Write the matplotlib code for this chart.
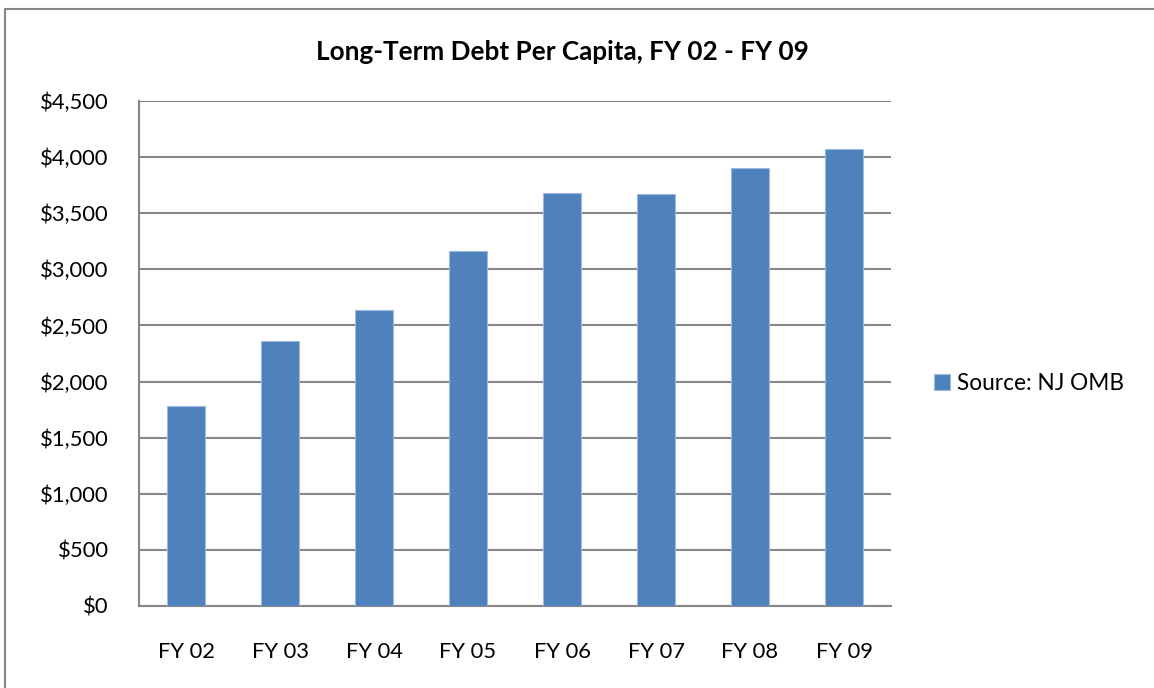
import matplotlib
matplotlib.use("Agg")
import matplotlib.pyplot as plt
from matplotlib.patches import Rectangle
from matplotlib.ticker import FuncFormatter

plt.rcParams['font.family'] = ['Lato', 'DejaVu Sans']

years = ["FY 02", "FY 03", "FY 04", "FY 05", "FY 06", "FY 07", "FY 08", "FY 09"]
debt_per_capita = [1783, 2363, 2640, 3164, 3682, 3667, 3899, 4071]
y_ticks = [0, 500, 1000, 1500, 2000, 2500, 3000, 3500, 4000, 4500]

W, H = 1154, 688
fig = plt.figure(figsize=(W / 100, H / 100), dpi=100)

# plot area in pixels: left 139, right 891, top 101, bottom 606
ax = fig.add_axes([139 / W, 1 - 606 / H, (891 - 139) / W, (606 - 101) / H])

xs = range(len(years))
ax.bar(xs, debt_per_capita, width=0.4, color="#4F81BD", edgecolor="#9DB9DE",
       linewidth=0.8, zorder=3, label="Source: NJ OMB")

ax.set_xlim(-0.5, len(years) - 0.5)
ax.set_ylim(0, 4500)
ax.set_yticks(y_ticks)
ax.yaxis.set_major_formatter(FuncFormatter(lambda v, p: "${:,.0f}".format(v)))
ax.set_xticks(list(xs))
ax.set_xticklabels(years)
ax.tick_params(axis="both", length=0, labelsize=15.8, colors="black")
ax.tick_params(axis="y", pad=22)
ax.tick_params(axis="x", pad=26)

ax.grid(axis="y", color="#868686", linewidth=1.5, zorder=0)
for s in ["top", "right"]:
    ax.spines[s].set_visible(False)
for s in ["left", "bottom"]:
    ax.spines[s].set_color("#868686")
    ax.spines[s].set_linewidth(1.5)

fig.text(562 / W, 1 - 52 / H, "Long-Term Debt Per Capita, FY 02 - FY 09",
         ha="center", va="center", fontsize=18.8, fontweight="bold")

leg = fig.legend(loc="center left", bbox_to_anchor=(925 / W, 1 - 383 / H),
                 frameon=False, fontsize=16.3, handlelength=0.7, handleheight=0.7,
                 handletextpad=0.3, borderaxespad=0)

# outer chart frame
fig.patches.append(Rectangle((4.5 / W, -0.1), 1.2, 1 - 9.5 / H + 0.1,
                             transform=fig.transFigure, fill=False,
                             edgecolor="#868686", linewidth=1.5))

fig.savefig("out.png", dpi=100)
